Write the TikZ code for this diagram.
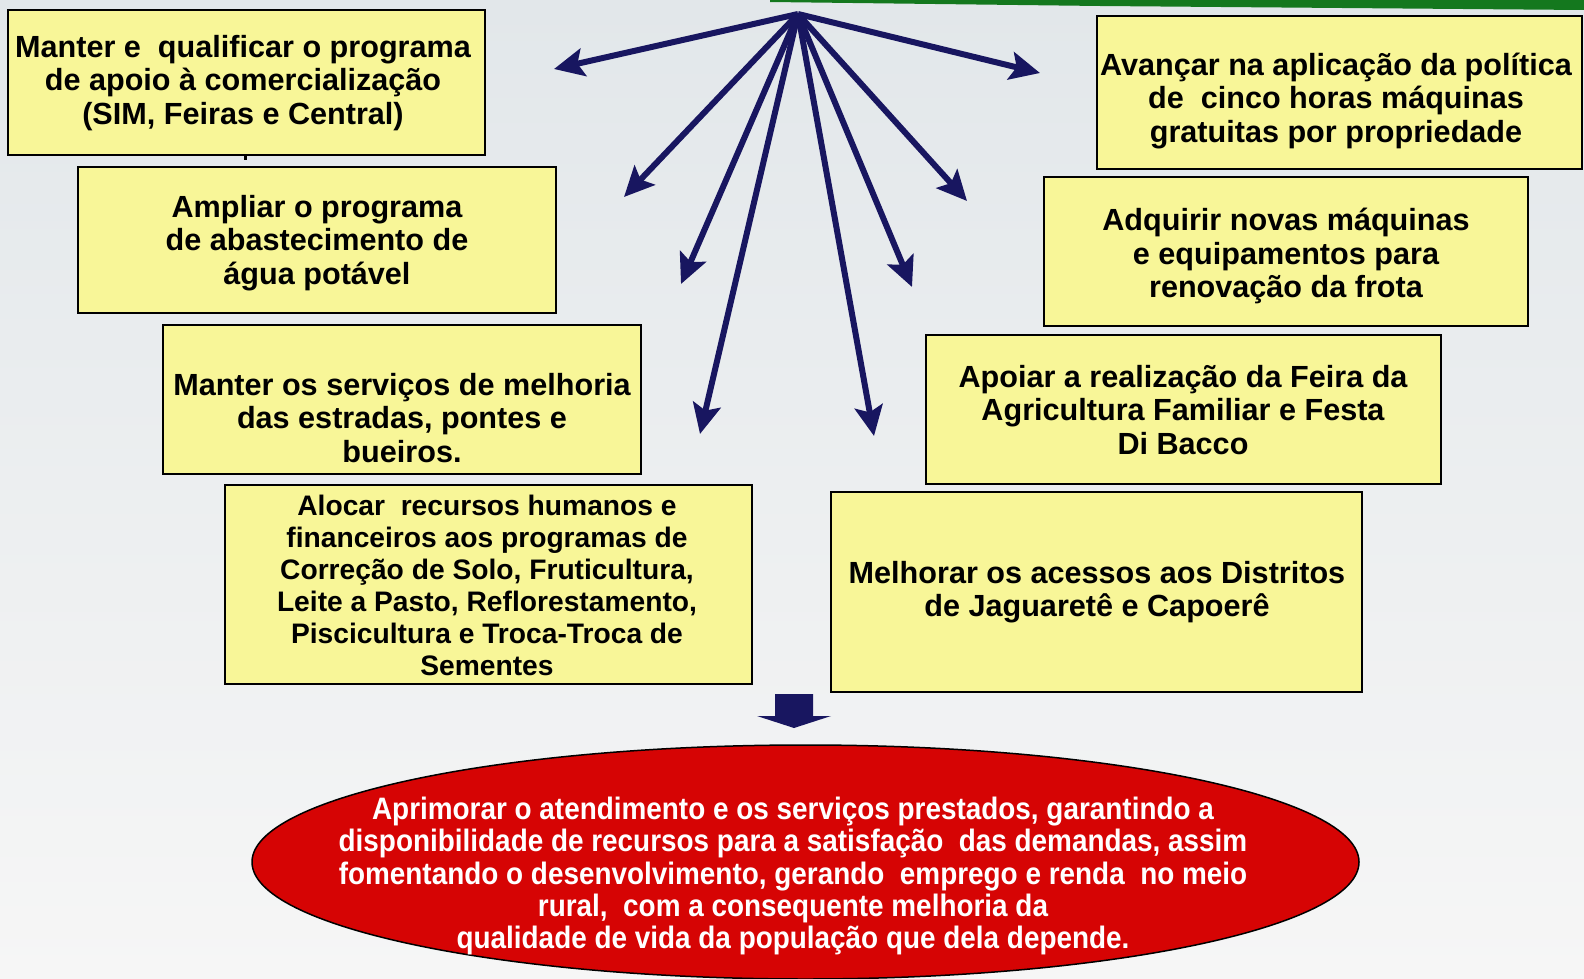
\documentclass[tikz,border=0pt]{standalone}
\usepackage{fontspec}
\setmainfont{Liberation Sans}
\newfontfamily\narrowfont[FakeStretch=0.9]{Liberation Sans}
\usetikzlibrary{arrows.meta,shapes.geometric}
\definecolor{boxyellow}{RGB}{248,246,152}
\definecolor{goalred}{RGB}{214,4,4}
\definecolor{navyarrow}{RGB}{24,22,96}
\definecolor{bgtop}{RGB}{226,231,234}
\definecolor{bgbottom}{RGB}{246,246,246}
\definecolor{topgreen}{RGB}{20,120,30}
\tikzset{
  box/.style={draw=black, line width=1.5pt, fill=boxyellow, inner sep=0pt},
  boxtext/.style={align=center, inner sep=0pt, font=\fontsize{30.6}{33.5}\selectfont\bfseries},
  ray/.style={draw=navyarrow, line width=6pt, -{Stealth[length=30pt,width=28pt,inset=6pt]}},
  goal/.style={ellipse, draw=black, line width=1.5pt, fill=goalred, inner sep=0pt},
  goaltext/.style={align=center, inner sep=0pt, text=white, font=\narrowfont\fontsize{31}{32.3}\selectfont\bfseries}
}
\begin{document}
\begin{tikzpicture}[x=1pt,y=-1pt]
\useasboundingbox (0,0) rectangle (1584,979);
\shade[top color=bgtop, bottom color=bgbottom] (0,0) rectangle (1584,979);
\fill[topgreen] (770,0) -- (1584,0) -- (1584,10) -- (1100,6) -- (770,2) -- cycle;

% boxes
\node[box, minimum width=477pt, minimum height=145pt] (b1) at (246.5,82.5) {};
\node[box, minimum width=478pt, minimum height=146pt] (b2) at (317,240) {};
\node[box, minimum width=478pt, minimum height=149pt] (b3) at (402,399.5) {};
\node[box, minimum width=527pt, minimum height=199pt] (b4) at (488.5,584.5) {};
\node[box, minimum width=485pt, minimum height=153pt] (b5) at (1339.5,92.5) {};
\node[box, minimum width=484pt, minimum height=149pt] (b6) at (1286,251.5) {};
\node[box, minimum width=515pt, minimum height=149pt] (b7) at (1183.5,409.5) {};
\node[box, minimum width=531pt, minimum height=200pt] (b8) at (1096.5,592) {};

% texts
\node[boxtext] (t1) at (243,83) {Manter e \ qualificar o programa\\de apoio à comercialização\\(SIM, Feiras e Central)};
\node[boxtext] (t2) at (317,243) {Ampliar o programa\\de abastecimento de\\água potável};
\node[boxtext] (t3) at (402,418) {Manter os serviços de melhoria\\das estradas, pontes e\\bueiros.};
\node[boxtext, font=\fontsize{28.2}{32}\selectfont\bfseries] (t4) at (487,585) {Alocar \ recursos humanos e\\financeiros aos programas de\\Correção de Solo, Fruticultura,\\Leite a Pasto, Reflorestamento,\\Piscicultura e Troca-Troca de\\Sementes};
\node[boxtext] (t5) at (1336,101) {Avançar na aplicação da política\\de \ cinco horas máquinas\\gratuitas por propriedade};
\node[boxtext] (t6) at (1286,256) {Adquirir novas máquinas\\e equipamentos para\\renovação da frota};
\node[boxtext] (t7) at (1183,410) {Apoiar a realização da Feira da\\Agricultura Familiar e Festa\\Di Bacco};
\node[boxtext] (t8) at (1097,592) {Melhorar os acessos aos Distritos\\de Jaguaretê e Capoerê};

% stray dot
\fill[black] (243.5,156) rectangle (246.5,160);

% rays
\coordinate (hub) at (798,14);
\coordinate (e1) at (554,69);
\coordinate (e2) at (624,197);
\coordinate (e3) at (681,284);
\coordinate (e4) at (700,434);
\coordinate (e5) at (874,436);
\coordinate (e6) at (912,287);
\coordinate (e7) at (967,201);
\coordinate (e8) at (1040,73);
\foreach \e in {e1,e2,e3,e4,e5,e6,e7,e8}{\draw[ray] (hub) -- (\e);}

% goal ellipse
\node[goal, minimum width=1107pt, minimum height=234pt] (g) at (805.5,862) {};
\node[goaltext] (gt) at (793,876) {Aprimorar o atendimento e os serviços prestados, garantindo a\\disponibilidade de recursos para a satisfação \ das demandas, assim\\fomentando o desenvolvimento, gerando \ emprego e renda \ no meio\\rural, \ com a consequente melhoria da\\qualidade de vida da população que dela depende.};

% down block arrow
\fill[navyarrow] (775,694) -- (813,694) -- (813,716) -- (831,716) -- (794,728) -- (757,716) -- (775,716) -- cycle;
\end{tikzpicture}
\end{document}
